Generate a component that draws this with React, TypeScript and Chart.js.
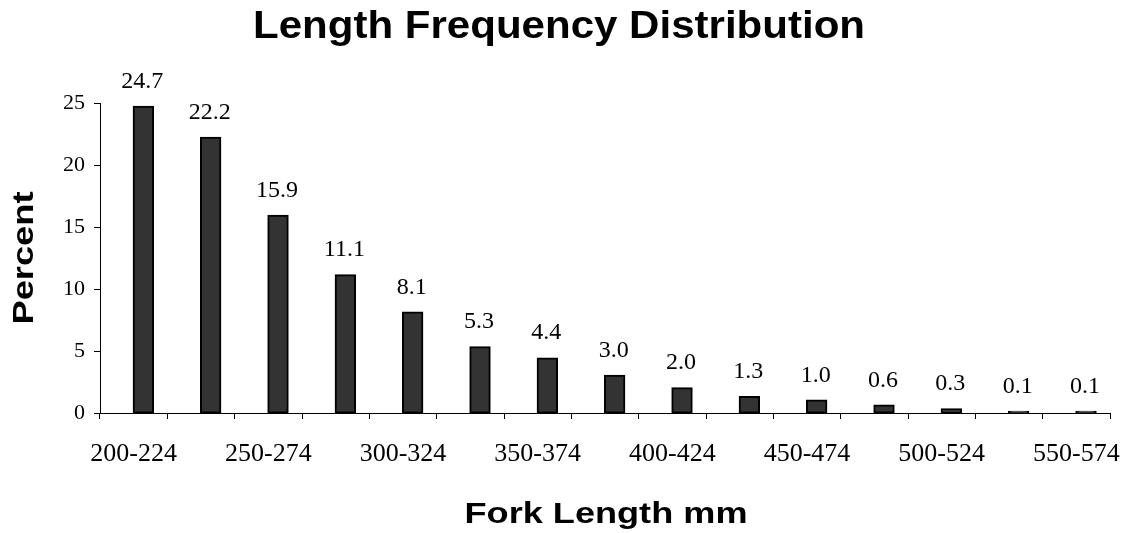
import { useEffect, useRef } from "react";
import { Chart, registerables } from "chart.js";

Chart.register(...registerables);

const categories = [
  "200-224", "225-249", "250-274", "275-299", "300-324", "325-349", "350-374",
  "375-399", "400-424", "425-449", "450-474", "475-499", "500-524", "525-549", "550-574",
];
const percents = [24.7, 22.2, 15.9, 11.1, 8.1, 5.3, 4.4, 3.0, 2.0, 1.3, 1.0, 0.6, 0.3, 0.1, 0.1];
const emptySeries = categories.map(() => null);
const yMin = 0;
const yMax = 25;
const yStep = 5;

const chartTitle = "Length Frequency Distribution";
const xAxisTitle = "Fork Length mm";
const yAxisTitle = "Percent";

const SANS = '"Liberation Sans", Arial, sans-serif';
const SERIF = '"Liberation Serif", "Times New Roman", serif';

function drawStretched(ctx: CanvasRenderingContext2D, text: string, cx: number, baseline: number, size: number, targetWidth: number) {
  ctx.font = `bold ${size}px ${SANS}`;
  const w = ctx.measureText(text).width;
  const k = targetWidth / w;
  ctx.save();
  ctx.translate(cx, baseline);
  ctx.scale(k, 1);
  ctx.textAlign = "center";
  ctx.textBaseline = "alphabetic";
  ctx.fillText(text, 0, 0);
  ctx.restore();
}

const valueLabels = {
  id: "valueLabels",
  afterDatasetsDraw(chart: any) {
    const ctx = chart.ctx;
    const meta = chart.getDatasetMeta(1);
    ctx.save();
    ctx.font = `24px ${SERIF}`;
    ctx.fillStyle = "#000";
    ctx.textAlign = "center";
    ctx.textBaseline = "alphabetic";
    meta.data.forEach((bar: any, i: number) => {
      ctx.fillText(percents[i].toFixed(1), bar.x - 1, bar.y - 19);
    });
    ctx.restore();
  },
};

const titles = {
  id: "titles",
  afterDraw(chart: any) {
    const ctx = chart.ctx;
    const area = chart.chartArea;
    ctx.save();
    ctx.fillStyle = "#000";
    drawStretched(ctx, chartTitle, 559, 38, 38, 612);
    drawStretched(ctx, xAxisTitle, (area.left + area.right) / 2 + 1, 523, 30, 283);
    ctx.translate(33, (area.top + area.bottom) / 2);
    ctx.rotate(-Math.PI / 2);
    drawStretched(ctx, yAxisTitle, 0, 0, 30, 133);
    ctx.restore();
  },
};

export default function App() {
  const ref = useRef<HTMLCanvasElement>(null);
  useEffect(() => {
    if (!ref.current) return;
    const chart = new Chart(ref.current, {
      type: "bar",
      data: {
        labels: categories,
        datasets: [
          { label: "", data: emptySeries as any, backgroundColor: "#333333" },
          {
            label: "Percent",
            data: percents,
            backgroundColor: "#333333",
            borderColor: "#000000",
            borderWidth: 2,
            borderSkipped: false,
            inflateAmount: 1,
          },
        ],
      },
      options: {
        responsive: false,
        animation: false,
        events: [],
        layout: { padding: { top: 103, right: 13, left: 0, bottom: 0 } },
        datasets: { bar: { categoryPercentage: 0.575, barPercentage: 1 } },
        plugins: { legend: { display: false }, title: { display: false }, tooltip: { enabled: false } },
        scales: {
          x: {
            offset: true,
            grid: { display: true, drawOnChartArea: false, drawTicks: true, tickLength: 6, color: "#000", offset: true },
            border: { display: true, color: "#000", width: 1 },
            ticks: {
              autoSkip: false,
              maxRotation: 0,
              minRotation: 0,
              padding: 20,
              color: "#000",
              font: { family: SERIF, size: 26 },
              callback: (_v: any, i: number) => (i % 2 === 0 ? categories[i] : ""),
            },
            afterFit: (s: any) => {
              s.height = 120;
              s.paddingLeft = 0;
              s.paddingRight = 0;
            },
          },
          y: {
            min: yMin,
            max: yMax,
            grid: { display: true, drawOnChartArea: false, drawTicks: true, tickLength: 6, color: "#000" },
            border: { display: true, color: "#000", width: 1 },
            ticks: {
              stepSize: yStep,
              padding: 9,
              color: "#000",
              font: { family: SERIF, size: 22 },
            },
            afterFit: (s: any) => {
              s.width = 100;
              s.paddingTop = 0;
              s.paddingBottom = 0;
            },
          },
        },
      },
      plugins: [valueLabels, titles],
    });
    return () => chart.destroy();
  }, []);
  return (
    <div style={{ position: "absolute", left: 0, top: 0, width: 1123, height: 533, background: "#fff" }}>
      <canvas ref={ref} width={1123} height={533} />
    </div>
  );
}
